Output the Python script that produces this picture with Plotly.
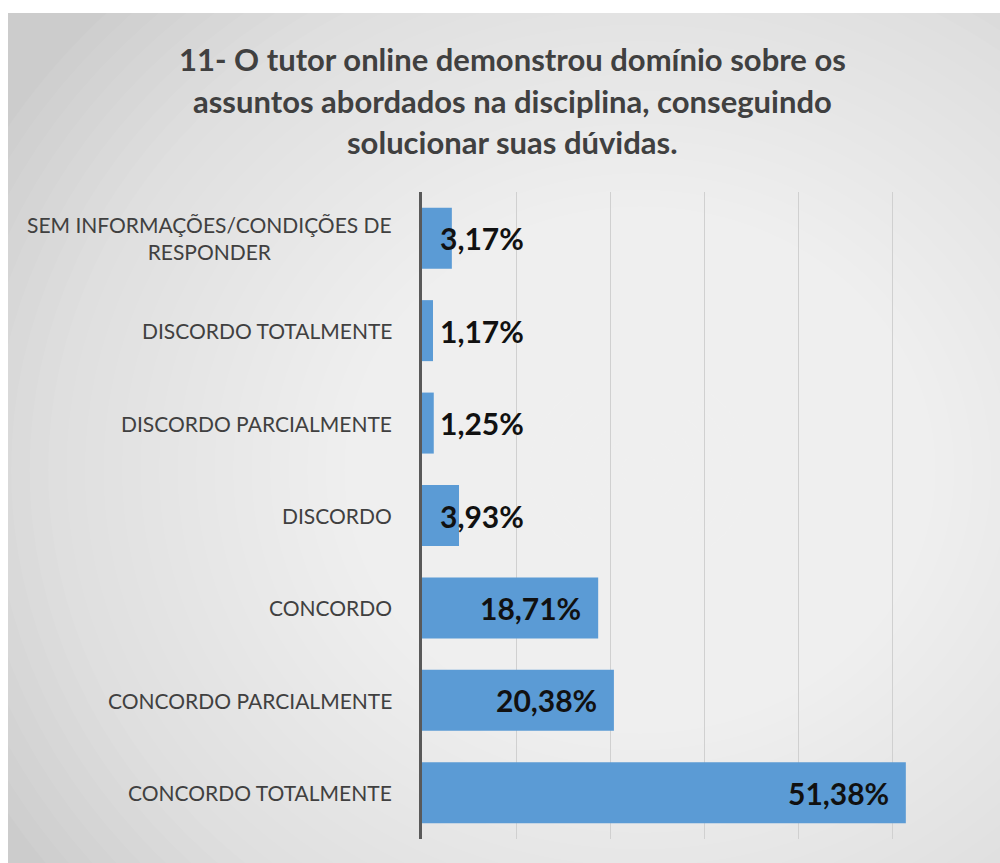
import plotly.graph_objects as go

categories = [
    "CONCORDO TOTALMENTE",
    "CONCORDO PARCIALMENTE",
    "CONCORDO",
    "DISCORDO",
    "DISCORDO PARCIALMENTE",
    "DISCORDO TOTALMENTE",
    "SEM INFORMAÇÕES/CONDIÇÕES DE<br>RESPONDER",
]
values = [51.38, 20.38, 18.71, 3.93, 1.25, 1.17, 3.17]
value_labels = ["51,38%", "20,38%", "18,71%", "3,93%", "1,25%", "1,17%", "3,17%"]
title_lines = [
    "11- O tutor online demonstrou domínio sobre os",
    "assuntos abordados na disciplina, conseguindo",
    "solucionar suas dúvidas.",
]

W, H = 1000, 863
L, R, T, B = 422, 13, 192, 24
PW, PH = W - L - R, H - T - B

def px(x):
    return (x - L) / PW

def py(y):
    return (H - B - y) / PH

FONT = "Lato, Carlito, Calibri, sans-serif"

fig = go.Figure()
fig.add_trace(go.Bar(
    y=categories, x=values, orientation="h",
    marker=dict(color="#5B9BD5", line=dict(width=0)),
    textposition="none", hoverinfo="skip",
))

shapes = []
shapes.append(dict(type="rect", xref="paper", yref="paper", layer="below",
                   x0=px(8), x1=px(1005), y0=py(13), y1=py(870),
                   fillcolor="#cccccc", line=dict(width=0)))
cx, cy = 640, 470
n = 40
for i in range(n):
    f = 1 - i / n
    rx, ry = 740 * f, 660 * f
    shapes.append(dict(type="circle", xref="paper", yref="paper", layer="below",
                       x0=px(cx - rx), x1=px(cx + rx), y0=py(cy + ry), y1=py(cy - ry),
                       fillcolor="rgba(255,255,255,0.06)", line=dict(width=0)))
shapes.append(dict(type="rect", xref="paper", yref="paper", layer="below",
                   x0=px(-5), x1=px(1010), y0=py(-5), y1=py(13),
                   fillcolor="white", line=dict(width=0)))
shapes.append(dict(type="rect", xref="paper", yref="paper", layer="below",
                   x0=px(-5), x1=px(8), y0=py(-5), y1=py(870),
                   fillcolor="white", line=dict(width=0)))

annotations = []
for i, line in enumerate(title_lines):
    annotations.append(dict(text=f"<b>{line}</b>", xref="paper", yref="paper",
                            x=px(512), y=py([59, 101, 142][i]), showarrow=False,
                            xanchor="center", yanchor="middle",
                            font=dict(family=FONT, size=31, color="#404040")))
for cat in categories:
    annotations.append(dict(text=cat, xref="paper", yref="y", x=0, y=cat,
                            xanchor="right", yanchor="middle", xshift=-28,
                            align="center", showarrow=False,
                            font=dict(family=FONT, size=21, color="#404040")))
for cat, v, lab in zip(categories, values, value_labels):
    if v > 10:
        a = dict(x=v, xanchor="right", xshift=-15)
    else:
        a = dict(x=0, xanchor="left", xshift=16)
    annotations.append(dict(text=f"<b>{lab}</b>", xref="x", yref="y", y=cat,
                            yanchor="middle", showarrow=False,
                            font=dict(family=FONT, size=30, color="#111111"), **a))

fig.update_layout(
    width=W, height=H,
    margin=dict(l=L, r=R, t=T, b=B, pad=0),
    paper_bgcolor="white", plot_bgcolor="rgba(0,0,0,0)",
    showlegend=False, bargap=0.34,
    shapes=shapes, annotations=annotations,
    xaxis=dict(range=[0, 60], dtick=10, showgrid=True, gridcolor="#d0d0d0", gridwidth=1,
               showticklabels=False, zeroline=False, showline=False, fixedrange=True),
    yaxis=dict(showticklabels=False, showgrid=False, zeroline=False,
               showline=True, linecolor="#595959", linewidth=2.5, fixedrange=True),
)
fig.write_html("out.html", config={"displayModeBar": False})

with open("out.html", encoding="utf-8") as fh:
    html = fh.read()
html = html.replace("<head>", "<head><style>html,body{margin:0;padding:0;overflow:hidden;}</style>", 1)
with open("out.html", "w", encoding="utf-8") as fh:
    fh.write(html)
